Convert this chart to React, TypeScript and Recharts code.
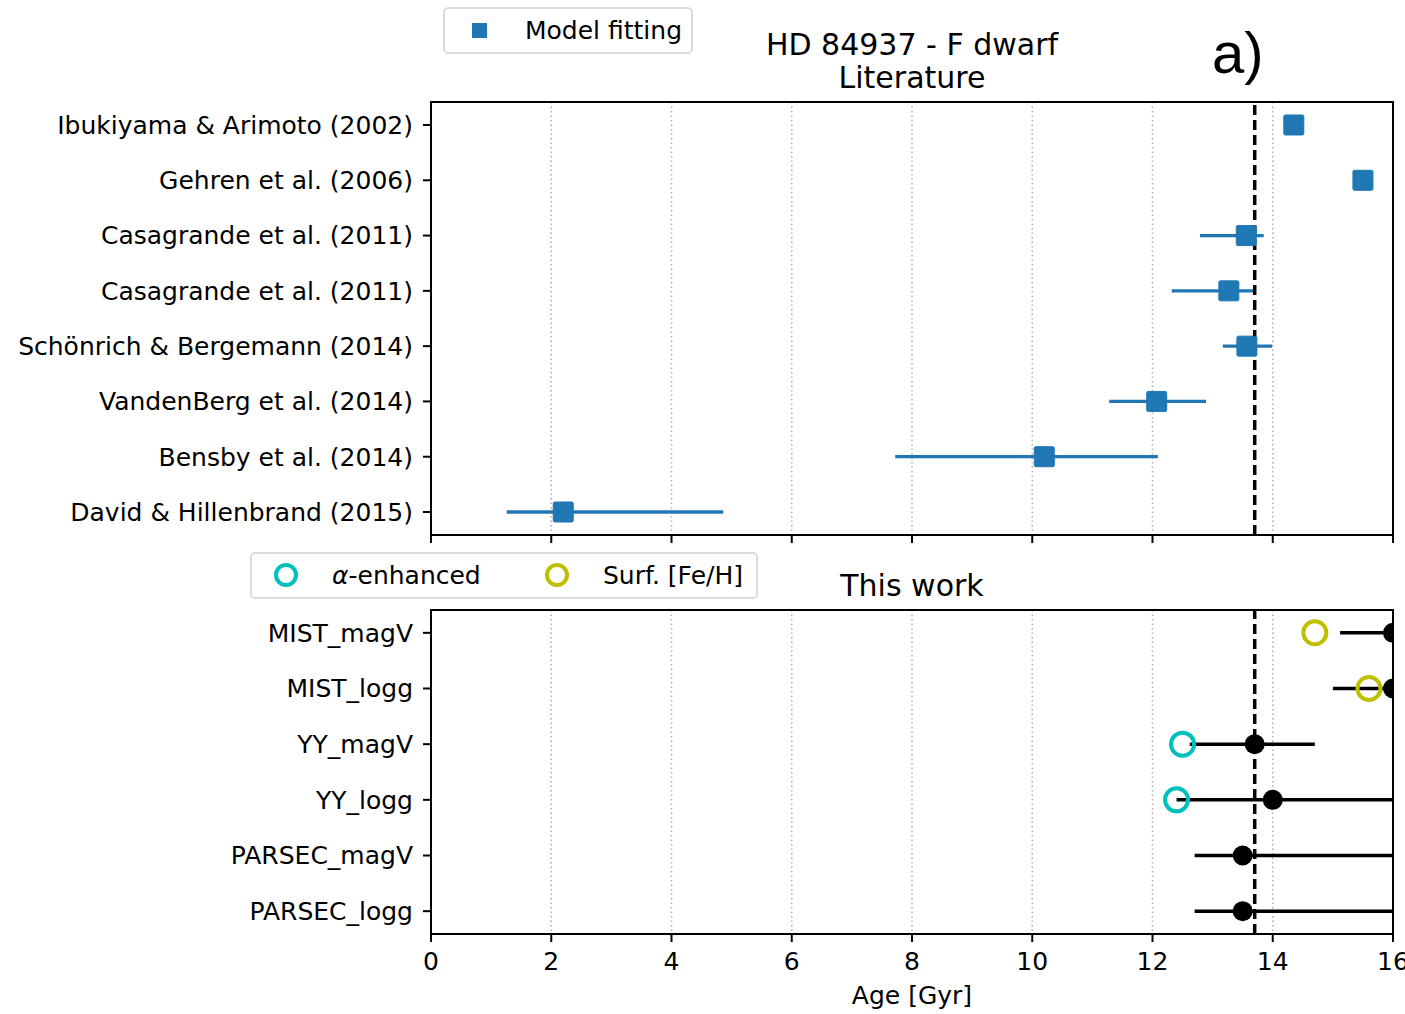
import React from 'react';
import {
  ScatterChart,
  Scatter,
  XAxis,
  YAxis,
  CartesianGrid,
  ReferenceLine,
  ReferenceArea,
  ErrorBar,
} from 'recharts';

const FONT = '"DejaVu Sans", sans-serif';

// ---------- Data ----------
const litNames = [
  'Ibukiyama & Arimoto (2002)',
  'Gehren et al. (2006)',
  'Casagrande et al. (2011)',
  'Casagrande et al. (2011)',
  'Schönrich & Bergemann (2014)',
  'VandenBerg et al. (2014)',
  'Bensby et al. (2014)',
  'David & Hillenbrand (2015)',
];
const litAges = [14.35, 15.5, 13.56, 13.27, 13.57, 12.07, 10.2, 2.2];
const litLow: (number | null)[] = [null, null, 12.79, 12.32, 13.17, 11.28, 7.72, 1.26];
const litHigh: (number | null)[] = [null, null, 13.85, 13.7, 13.99, 12.89, 12.09, 4.86];

const modelNames = ['MIST_magV', 'MIST_logg', 'YY_magV', 'YY_logg', 'PARSEC_magV', 'PARSEC_logg'];
const bestAges = [16.0, 16.0, 13.7, 14.0, 13.5, 13.5];
const bestLow = [15.12, 15.0, 12.62, 12.4, 12.7, 12.7];
const bestHigh = [17.5, 17.5, 14.7, 17.5, 17.5, 17.5];
const alphaAges: (number | null)[] = [null, null, 12.5, 12.4, null, null];
const surfAges: (number | null)[] = [14.7, 15.6, null, null, null, null];

const xTicks = [0, 2, 4, 6, 8, 10, 12, 14, 16];
const refAge = 13.7;

// ---------- Derived tables ----------
const litData = litNames.map((_, i) => ({
  y: i,
  x: litAges[i],
  err: [
    litLow[i] == null ? 0 : litAges[i] - (litLow[i] as number),
    litHigh[i] == null ? 0 : (litHigh[i] as number) - litAges[i],
  ],
}));
const bestData = modelNames.map((_, i) => ({
  y: i,
  x: bestAges[i],
  err: [bestAges[i] - bestLow[i], bestHigh[i] - bestAges[i]],
}));
const alphaData = alphaAges
  .map((v, i) => ({ y: i, x: v }))
  .filter((d) => d.x != null);
const surfData = surfAges
  .map((v, i) => ({ y: i, x: v }))
  .filter((d) => d.x != null);

const BLUE = '#1f77b4';
const CYAN = '#00bfbf';
const YELLOW = '#bfbf00';

// layout of the bottom chart (used for clipping to its plot area)
const B_W = 1405;
const B_H = 469;
const B_MARGIN = { top: 65, right: 12, bottom: 0, left: 0 };
const Y_AXIS_W = 431;
const B_XAXIS_H = 80;
const CLIP_ID = 'bottomPlotClip';

const SquareShape = (props: any) => {
  const { cx, cy } = props;
  return <rect x={cx - 10} y={cy - 10} width={20} height={20} rx={1.5} fill={BLUE} stroke={BLUE} strokeWidth={1} />;
};
const BlackDot = (props: any) => {
  const { cx, cy } = props;
  return (
    <g clipPath={`url(#${CLIP_ID})`}>
      <circle cx={cx} cy={cy} r={10} fill="#000" />
    </g>
  );
};
const ringShape = (color: string) => (props: any) => {
  const { cx, cy } = props;
  return <circle cx={cx} cy={cy} r={11.5} fill="none" stroke={color} strokeWidth={4} />;
};

const axisLineStyle = { stroke: '#000', strokeWidth: 2 };
const tickStyle = { fill: '#000', fontSize: 25, fontFamily: FONT };

const litYDomain: [number, number] = [-0.416, 7.416];
const modYDomain: [number, number] = [-0.41, 5.41];

export default function App() {
  return (
    <div style={{ position: 'absolute', left: 0, top: 0, width: 1405, height: 1014, background: '#fff', fontFamily: FONT }}>
      {/* clip definition for bottom plot area */}
      <svg width={0} height={0} style={{ position: 'absolute', left: 0, top: 0 }}>
        <defs>
          <clipPath id={CLIP_ID} clipPathUnits="userSpaceOnUse">
            <rect
              x={B_MARGIN.left + Y_AXIS_W}
              y={B_MARGIN.top}
              width={B_W - B_MARGIN.left - Y_AXIS_W - B_MARGIN.right}
              height={B_H - B_MARGIN.top - B_XAXIS_H - B_MARGIN.bottom}
            />
          </clipPath>
        </defs>
      </svg>

      {/* Top panel */}
      <div style={{ position: 'absolute', left: 0, top: 0 }}>
        <ScatterChart width={1405} height={545} margin={{ top: 102, right: 12, bottom: 0, left: 0 }}>
          <CartesianGrid horizontal={false} stroke="#b0b0b0" strokeDasharray="1.5 3" strokeWidth={1.5} />
          <XAxis
            type="number"
            dataKey="x"
            domain={[0, 16]}
            ticks={xTicks}
            interval={0}
            allowDataOverflow
            tick={() => <g />}
            tickSize={8}
            height={10}
            axisLine={axisLineStyle}
            tickLine={axisLineStyle}
          />
          <YAxis
            type="number"
            dataKey="y"
            domain={litYDomain}
            ticks={[0, 1, 2, 3, 4, 5, 6, 7]}
            interval={0}
            reversed
            allowDataOverflow
            width={Y_AXIS_W}
            tickFormatter={(v: number) => litNames[v]}
            tick={tickStyle}
            tickSize={8}
            tickMargin={10}
            axisLine={axisLineStyle}
            tickLine={axisLineStyle}
          />
          <ReferenceArea x1={0} x2={16} y1={litYDomain[0]} y2={litYDomain[1]} fill="none" fillOpacity={0} stroke="#000" strokeWidth={2} />
          <Scatter data={litData} shape={SquareShape} isAnimationActive={false}>
            <ErrorBar dataKey="err" direction="x" width={0} stroke={BLUE} strokeWidth={3.3} isAnimationActive={false} />
          </Scatter>
          <ReferenceLine x={refAge} stroke="#000" strokeWidth={3.5} strokeDasharray="10 5" />
        </ScatterChart>
      </div>

      {/* Bottom panel */}
      <div style={{ position: 'absolute', left: 0, top: 545 }}>
        <ScatterChart width={B_W} height={B_H} margin={B_MARGIN}>
          <CartesianGrid horizontal={false} stroke="#b0b0b0" strokeDasharray="1.5 3" strokeWidth={1.5} />
          <XAxis
            type="number"
            dataKey="x"
            domain={[0, 16]}
            ticks={xTicks}
            interval={0}
            allowDataOverflow
            tick={tickStyle}
            tickSize={8}
            tickMargin={10}
            height={B_XAXIS_H}
            axisLine={axisLineStyle}
            tickLine={axisLineStyle}
            label={{ value: 'Age [Gyr]', position: 'insideBottom', offset: 10, fill: '#000', fontSize: 25, fontFamily: FONT }}
          />
          <YAxis
            type="number"
            dataKey="y"
            domain={modYDomain}
            ticks={[0, 1, 2, 3, 4, 5]}
            interval={0}
            reversed
            allowDataOverflow
            width={Y_AXIS_W}
            tickFormatter={(v: number) => modelNames[v]}
            tick={tickStyle}
            tickSize={8}
            tickMargin={10}
            axisLine={axisLineStyle}
            tickLine={axisLineStyle}
          />
          <ReferenceArea x1={0} x2={16} y1={modYDomain[0]} y2={modYDomain[1]} fill="none" fillOpacity={0} stroke="#000" strokeWidth={2} />
          <ReferenceLine x={refAge} stroke="#000" strokeWidth={3.5} strokeDasharray="10 5" />
          <Scatter data={alphaData} shape={ringShape(CYAN)} isAnimationActive={false} />
          <Scatter data={surfData} shape={ringShape(YELLOW)} isAnimationActive={false} />
          <Scatter data={bestData} shape={BlackDot} isAnimationActive={false}>
            <ErrorBar
              dataKey="err"
              direction="x"
              width={0}
              stroke="#000"
              strokeWidth={3.5}
              clipPath={`url(#${CLIP_ID})`}
              isAnimationActive={false}
            />
          </Scatter>
        </ScatterChart>
      </div>

      {/* Titles and legends */}
      <svg width={1405} height={1014} style={{ position: 'absolute', left: 0, top: 0, pointerEvents: 'none' }}>
        <text x={912} y={55} textAnchor="middle" fontSize={30} fontFamily={FONT} fill="#000">HD 84937 - F dwarf</text>
        <text x={912} y={88} textAnchor="middle" fontSize={30} fontFamily={FONT} fill="#000">Literature</text>
        <text x={1212} y={73} fontSize={58} fontFamily='"Liberation Sans", Arial, sans-serif' fill="#000">a)</text>
        <text x={912} y={596} textAnchor="middle" fontSize={30} fontFamily={FONT} fill="#000">This work</text>

        <rect x={444} y={8} width={248} height={45} rx={4} fill="#fff" fillOpacity={0.8} stroke="#d0d0d0" strokeWidth={1.5} />
        <rect x={472} y={23} width={15} height={15} fill={BLUE} />
        <text x={525} y={39} fontSize={25} fontFamily={FONT} fill="#000">Model fitting</text>

        <rect x={251} y={553} width={506} height={45} rx={4} fill="#fff" fillOpacity={0.8} stroke="#d0d0d0" strokeWidth={1.5} />
        <circle cx={286} cy={575} r={10} fill="none" stroke={CYAN} strokeWidth={4} />
        <text x={332} y={584} fontSize={25} fontFamily={FONT} fill="#000">
          <tspan fontStyle="italic">α</tspan>-enhanced
        </text>
        <circle cx={557} cy={575} r={10} fill="none" stroke={YELLOW} strokeWidth={4} />
        <text x={603} y={584} fontSize={25} fontFamily={FONT} fill="#000">Surf. [Fe/H]</text>
      </svg>
    </div>
  );
}
